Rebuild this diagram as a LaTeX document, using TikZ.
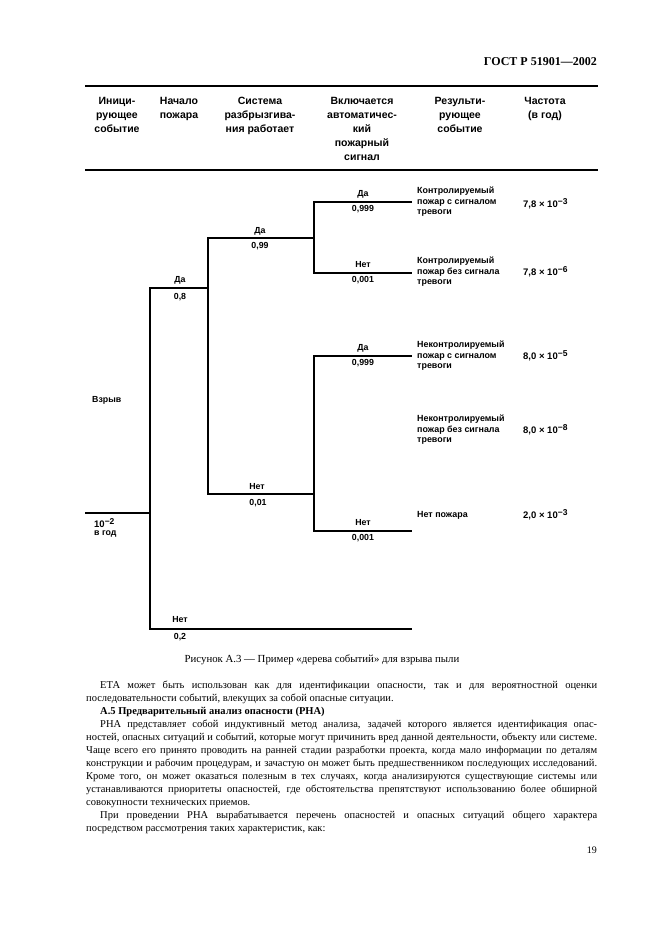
\documentclass[tikz,border=0pt]{standalone}
\usepackage{fontspec}
\setmainfont{Liberation Serif}
\setsansfont{Liberation Sans}
\tikzset{
  hd/.style={font=\sffamily\bfseries\fontsize{10.5}{14}\selectfont, align=center, anchor=north, inner sep=0pt},
  lbl/.style={font=\sffamily\bfseries\fontsize{8.8}{10}\selectfont, inner sep=0pt},
  res/.style={font=\sffamily\bfseries\fontsize{8.9}{10.5}\selectfont, align=left, anchor=west, inner sep=0pt},
  freq/.style={font=\sffamily\bfseries\fontsize{9.5}{10}\selectfont, anchor=west, inner sep=0pt},
  body/.style={font=\fontsize{10.5}{13}\selectfont, anchor=base west, inner sep=0pt},
  branch/.style={line width=2.6pt, line join=miter},
  rule/.style={line width=1.4pt}
}
\newcommand{\fl}[1]{\hbox to 511pt{#1}}
\newcommand{\il}[1]{\hbox to 497pt{#1}}
\newcommand{\ex}[1]{\raisebox{0.55ex}{\fontsize{8.5}{9}\selectfont #1}}
\begin{document}
\begin{tikzpicture}[x=1pt,y=-1pt]
\useasboundingbox[fill=white] (0,0) rectangle (661,936);

% page header
\node[font=\bfseries\fontsize{12}{14}\selectfont, anchor=east, inner sep=0pt] (gost) at (597,62) {ГОСТ Р 51901—2002};

% table rules
\coordinate (r1a) at (85,86); \coordinate (r1b) at (598,86);
\coordinate (r2a) at (85,170); \coordinate (r2b) at (598,170);
\draw[rule] (r1a) -- (r1b);
\draw[rule] (r2a) -- (r2b);

% column headers
\node[hd] (h1) at (117,97) {Иници-\\рующее\\событие};
\node[hd] (h2) at (179,97) {Начало\\пожара};
\node[hd] (h3) at (260,97) {Система\\разбрызгива-\\ния работает};
\node[hd] (h4) at (362,97) {Включается\\автоматичес-\\кий\\пожарный\\сигнал};
\node[hd] (h5) at (460,97) {Результи-\\рующее\\событие};
\node[hd] (h6) at (545,97) {Частота\\(в год)};

% tree coordinates
\coordinate (s0) at (85,513);   \coordinate (s1) at (150,513);
\coordinate (p8) at (150,288);  \coordinate (q8) at (208,288);
\coordinate (p2) at (150,629);  \coordinate (q2) at (412,629);
\coordinate (u1) at (208,238);  \coordinate (u2) at (314,238);
\coordinate (v1) at (208,494);  \coordinate (v2) at (314,494);
\coordinate (a1) at (314,202);  \coordinate (a2) at (412,202);
\coordinate (b1) at (314,273);  \coordinate (b2) at (412,273);
\coordinate (c1) at (314,356);  \coordinate (c2) at (412,356);
\coordinate (d1) at (314,531);  \coordinate (d2) at (412,531);

\draw[branch] (s0) -- (s1);
\draw[branch] (q8) -- (p8) -- (p2) -- (q2);
\draw[branch] (u2) -- (u1) -- (v1) -- (v2);
\draw[branch] (a2) -- (a1) -- (b1) -- (b2);
\draw[branch] (c2) -- (c1) -- (d1) -- (d2);

% branch labels
\node[lbl, anchor=west] (vz) at (92,400) {Взрыв};
\node[lbl, anchor=west, font=\sffamily\bfseries\fontsize{9.5}{10}\selectfont] (f0) at (94,523) {10\ex{−2}};
\node[lbl, anchor=west] (f0b) at (94,534) {в год};

\node[lbl] (l8a) at (180,280) {Да};
\node[lbl] (l8b) at (180,297) {0,8};
\node[lbl] (l2a) at (180,620) {Нет};
\node[lbl] (l2b) at (180,637) {0,2};

\node[lbl] (l99a) at (260,231) {Да};
\node[lbl] (l99b) at (260,246) {0,99};
\node[lbl] (l01a) at (257,487) {Нет};
\node[lbl] (l01b) at (258,503) {0,01};

\node[lbl] (la1) at (363,194) {Да};
\node[lbl] (la2) at (363,209) {0,999};
\node[lbl] (lb1) at (363,265) {Нет};
\node[lbl] (lb2) at (363,280) {0,001};
\node[lbl] (lc1) at (363,348) {Да};
\node[lbl] (lc2) at (363,363) {0,999};
\node[lbl] (ld1) at (363,523) {Нет};
\node[lbl] (ld2) at (363,538) {0,001};

% outcomes
\node[res] (o1) at (417,202) {Контролируемый\\пожар с сигналом\\тревоги};
\node[res] (o2) at (417,272) {Контролируемый\\пожар без сигнала\\тревоги};
\node[res] (o3) at (417,356) {Неконтролируемый\\пожар с сигналом\\тревоги};
\node[res] (o4) at (417,430) {Неконтролируемый\\пожар без сигнала\\тревоги};
\node[res] (o5) at (417,515) {Нет пожара};

\node[freq] (q1) at (523,204) {7,8 × 10\ex{−3}};
\node[freq] (qq2) at (523,272) {7,8 × 10\ex{−6}};
\node[freq] (q3) at (523,356) {8,0 × 10\ex{−5}};
\node[freq] (q4) at (523,430) {8,0 × 10\ex{−8}};
\node[freq] (q5) at (523,515) {2,0 × 10\ex{−3}};

% caption
\node[font=\fontsize{10.8}{13}\selectfont, inner sep=0pt] (cap) at (322,660) {Рисунок А.3 — Пример «дерева событий» для взрыва пыли};

% body text
\node[body] (t1) at (100,688) {\il{ЕТА может быть использован как для идентификации опасности, так и для вероятностной оценки}};
\node[body] (t2) at (86,701) {последовательности событий, влекущих за собой опасные ситуации.};
\node[body] (t3) at (100,714) {\bfseries А.5 Предварительный анализ опасности (PHA)};
\node[body] (t4) at (100,727) {\il{PHA представляет собой индуктивный метод анализа, задачей которого является идентификация опас-}};
\node[body] (t5) at (86,740) {\fl{ностей, опасных ситуаций и событий, которые могут причинить вред данной деятельности, объекту или системе.}};
\node[body] (t6) at (86,753) {\fl{Чаще всего его принято проводить на ранней стадии разработки проекта, когда мало информации по деталям}};
\node[body] (t7) at (86,766) {\fl{конструкции и рабочим процедурам, и зачастую он может быть предшественником последующих исследований.}};
\node[body] (t8) at (86,779) {\fl{Кроме того, он может оказаться полезным в тех случаях, когда анализируются существующие системы или}};
\node[body] (t9) at (86,792) {\fl{устанавливаются приоритеты опасностей, где обстоятельства препятствуют использованию более обширной}};
\node[body] (t10) at (86,805) {совокупности технических приемов.};
\node[body] (t11) at (100,818) {\il{При проведении PHA вырабатывается перечень опасностей и опасных ситуаций общего характера}};
\node[body] (t12) at (86,831) {посредством рассмотрения таких характеристик, как:};

\node[font=\fontsize{10}{12}\selectfont, anchor=east, inner sep=0pt] (pg) at (597,850) {19};
\end{tikzpicture}
\end{document}
